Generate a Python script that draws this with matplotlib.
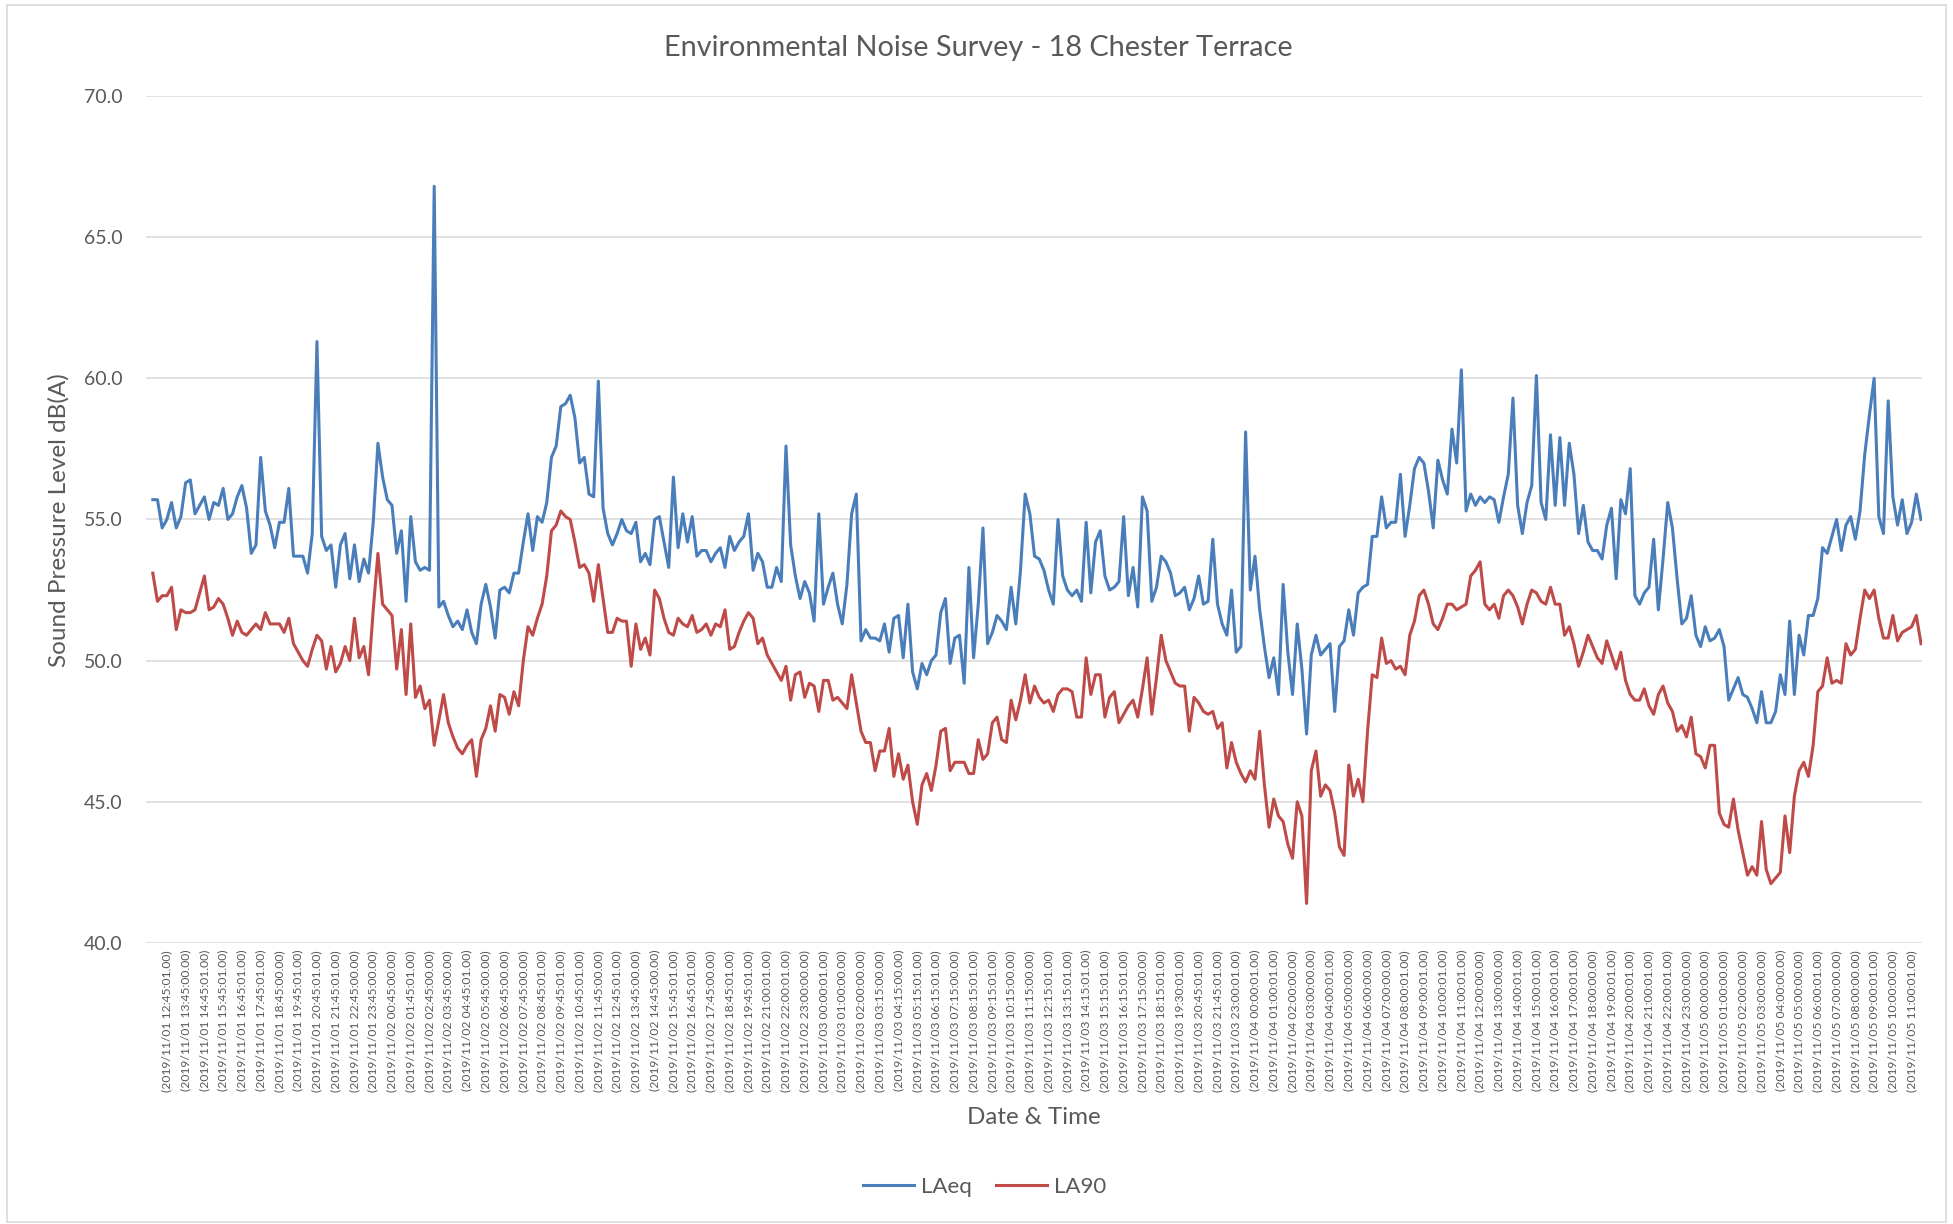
import numpy as np
import matplotlib.pyplot as plt
from matplotlib.patches import Rectangle

plt.rcParams['font.family'] = ['Lato', 'DejaVu Sans']

# x labels, one every 4th reading
tick_times = [
    "2019/11/01 12:45:01", "2019/11/01 13:45:00", "2019/11/01 14:45:01", "2019/11/01 15:45:01",
    "2019/11/01 16:45:01", "2019/11/01 17:45:01", "2019/11/01 18:45:00", "2019/11/01 19:45:01",
    "2019/11/01 20:45:01", "2019/11/01 21:45:01", "2019/11/01 22:45:00", "2019/11/01 23:45:00",
    "2019/11/02 00:45:00", "2019/11/02 01:45:01", "2019/11/02 02:45:00", "2019/11/02 03:45:00",
    "2019/11/02 04:45:01", "2019/11/02 05:45:00", "2019/11/02 06:45:00", "2019/11/02 07:45:00",
    "2019/11/02 08:45:01", "2019/11/02 09:45:01", "2019/11/02 10:45:01", "2019/11/02 11:45:00",
    "2019/11/02 12:45:01", "2019/11/02 13:45:00", "2019/11/02 14:45:00", "2019/11/02 15:45:01",
    "2019/11/02 16:45:01", "2019/11/02 17:45:00", "2019/11/02 18:45:01", "2019/11/02 19:45:01",
    "2019/11/02 21:00:01", "2019/11/02 22:00:01", "2019/11/02 23:00:00", "2019/11/03 00:00:01",
    "2019/11/03 01:00:00", "2019/11/03 02:00:00", "2019/11/03 03:15:00", "2019/11/03 04:15:00",
    "2019/11/03 05:15:01", "2019/11/03 06:15:01", "2019/11/03 07:15:00", "2019/11/03 08:15:01",
    "2019/11/03 09:15:01", "2019/11/03 10:15:00", "2019/11/03 11:15:00", "2019/11/03 12:15:01",
    "2019/11/03 13:15:01", "2019/11/03 14:15:01", "2019/11/03 15:15:01", "2019/11/03 16:15:01",
    "2019/11/03 17:15:00", "2019/11/03 18:15:01", "2019/11/03 19:30:01", "2019/11/03 20:45:01",
    "2019/11/03 21:45:01", "2019/11/03 23:00:01", "2019/11/04 00:00:01", "2019/11/04 01:00:01",
    "2019/11/04 02:00:00", "2019/11/04 03:00:00", "2019/11/04 04:00:01", "2019/11/04 05:00:00",
    "2019/11/04 06:00:00", "2019/11/04 07:00:00", "2019/11/04 08:00:01", "2019/11/04 09:00:01",
    "2019/11/04 10:00:01", "2019/11/04 11:00:01", "2019/11/04 12:00:00", "2019/11/04 13:00:00",
    "2019/11/04 14:00:01", "2019/11/04 15:00:01", "2019/11/04 16:00:01", "2019/11/04 17:00:01",
    "2019/11/04 18:00:00", "2019/11/04 19:00:01", "2019/11/04 20:00:01", "2019/11/04 21:00:01",
    "2019/11/04 22:00:01", "2019/11/04 23:00:00", "2019/11/05 00:00:00", "2019/11/05 01:00:00",
    "2019/11/05 02:00:00", "2019/11/05 03:00:00", "2019/11/05 04:00:00", "2019/11/05 05:00:00",
    "2019/11/05 06:00:01", "2019/11/05 07:00:00", "2019/11/05 08:00:00", "2019/11/05 09:00:01",
    "2019/11/05 10:00:00", "2019/11/05 11:00:01",
]

laeq = [
    55.7, 55.7, 54.7, 55.0, 55.6, 54.7, 55.1, 56.3, 56.4, 55.2,
    55.5, 55.8, 55.0, 55.6, 55.5, 56.1, 55.0, 55.2, 55.8, 56.2,
    55.4, 53.8, 54.1, 57.2, 55.3, 54.8, 54.0, 54.9, 54.9, 56.1,
    53.7, 53.7, 53.7, 53.1, 54.5, 61.3, 54.4, 53.9, 54.1, 52.6,
    54.1, 54.5, 52.9, 54.1, 52.8, 53.6, 53.1, 54.9, 57.7, 56.5,
    55.7, 55.5, 53.8, 54.6, 52.1, 55.1, 53.5, 53.2, 53.3, 53.2,
    66.8, 51.9, 52.1, 51.6, 51.2, 51.4, 51.1, 51.8, 51.0, 50.6,
    52.0, 52.7, 51.9, 50.8, 52.5, 52.6, 52.4, 53.1, 53.1, 54.2,
    55.2, 53.9, 55.1, 54.9, 55.6, 57.2, 57.6, 59.0, 59.1, 59.4,
    58.6, 57.0, 57.2, 55.9, 55.8, 59.9, 55.4, 54.5, 54.1, 54.5,
    55.0, 54.6, 54.5, 54.9, 53.5, 53.8, 53.4, 55.0, 55.1, 54.2,
    53.3, 56.5, 54.0, 55.2, 54.2, 55.1, 53.7, 53.9, 53.9, 53.5,
    53.8, 54.0, 53.3, 54.4, 53.9, 54.2, 54.4, 55.2, 53.2, 53.8,
    53.5, 52.6, 52.6, 53.3, 52.8, 57.6, 54.1, 53.0, 52.2, 52.8,
    52.4, 51.4, 55.2, 52.0, 52.6, 53.1, 52.0, 51.3, 52.7, 55.2,
    55.9, 50.7, 51.1, 50.8, 50.8, 50.7, 51.3, 50.3, 51.5, 51.6,
    50.1, 52.0, 49.6, 49.0, 49.9, 49.5, 50.0, 50.2, 51.7, 52.2,
    49.9, 50.8, 50.9, 49.2, 53.3, 50.1, 52.0, 54.7, 50.6, 51.0,
    51.6, 51.4, 51.1, 52.6, 51.3, 53.2, 55.9, 55.2, 53.7, 53.6,
    53.2, 52.5, 52.0, 55.0, 53.0, 52.5, 52.3, 52.5, 52.1, 54.9,
    52.4, 54.2, 54.6, 53.0, 52.5, 52.6, 52.8, 55.1, 52.3, 53.3,
    51.9, 55.8, 55.3, 52.1, 52.6, 53.7, 53.5, 53.1, 52.3, 52.4,
    52.6, 51.8, 52.2, 53.0, 52.0, 52.1, 54.3, 52.0, 51.3, 50.9,
    52.5, 50.3, 50.5, 58.1, 52.5, 53.7, 51.8, 50.5, 49.4, 50.1,
    48.8, 52.7, 50.3, 48.8, 51.3, 49.7, 47.4, 50.2, 50.9, 50.2,
    50.4, 50.6, 48.2, 50.5, 50.7, 51.8, 50.9, 52.4, 52.6, 52.7,
    54.4, 54.4, 55.8, 54.7, 54.9, 54.9, 56.6, 54.4, 55.5, 56.8,
    57.2, 57.0, 56.0, 54.7, 57.1, 56.4, 55.9, 58.2, 57.0, 60.3,
    55.3, 55.9, 55.5, 55.8, 55.6, 55.8, 55.7, 54.9, 55.8, 56.6,
    59.3, 55.5, 54.5, 55.6, 56.2, 60.1, 55.6, 55.0, 58.0, 55.5,
    57.9, 55.5, 57.7, 56.6, 54.5, 55.5, 54.2, 53.9, 53.9, 53.6,
    54.8, 55.4, 52.9, 55.7, 55.2, 56.8, 52.3, 52.0, 52.4, 52.6,
    54.3, 51.8, 53.6, 55.6, 54.7, 52.9, 51.3, 51.5, 52.3, 50.9,
    50.5, 51.2, 50.7, 50.8, 51.1, 50.5, 48.6, 49.0, 49.4, 48.8,
    48.7, 48.3, 47.8, 48.9, 47.8, 47.8, 48.2, 49.5, 48.8, 51.4,
    48.8, 50.9, 50.2, 51.6, 51.6, 52.2, 54.0, 53.8, 54.4, 55.0,
    53.9, 54.8, 55.1, 54.3, 55.3, 57.3, 58.7, 60.0, 55.1, 54.5,
    59.2, 55.8, 54.8, 55.7, 54.5, 54.9, 55.9, 55.0,
]

la90 = [
    53.1, 52.1, 52.3, 52.3, 52.6, 51.1, 51.8, 51.7, 51.7, 51.8,
    52.4, 53.0, 51.8, 51.9, 52.2, 52.0, 51.5, 50.9, 51.4, 51.0,
    50.9, 51.1, 51.3, 51.1, 51.7, 51.3, 51.3, 51.3, 51.0, 51.5,
    50.6, 50.3, 50.0, 49.8, 50.4, 50.9, 50.7, 49.7, 50.5, 49.6,
    49.9, 50.5, 50.0, 51.5, 50.1, 50.5, 49.5, 51.8, 53.8, 52.0,
    51.8, 51.6, 49.7, 51.1, 48.8, 51.3, 48.7, 49.1, 48.3, 48.6,
    47.0, 47.9, 48.8, 47.8, 47.3, 46.9, 46.7, 47.0, 47.2, 45.9,
    47.2, 47.6, 48.4, 47.5, 48.8, 48.7, 48.1, 48.9, 48.4, 50.0,
    51.2, 50.9, 51.5, 52.0, 53.0, 54.6, 54.8, 55.3, 55.1, 55.0,
    54.2, 53.3, 53.4, 53.1, 52.1, 53.4, 52.2, 51.0, 51.0, 51.5,
    51.4, 51.4, 49.8, 51.3, 50.4, 50.8, 50.2, 52.5, 52.2, 51.5,
    51.0, 50.9, 51.5, 51.3, 51.2, 51.6, 51.0, 51.1, 51.3, 50.9,
    51.3, 51.2, 51.8, 50.4, 50.5, 51.0, 51.4, 51.7, 51.5, 50.6,
    50.8, 50.2, 49.9, 49.6, 49.3, 49.8, 48.6, 49.5, 49.6, 48.7,
    49.2, 49.1, 48.2, 49.3, 49.3, 48.6, 48.7, 48.5, 48.3, 49.5,
    48.5, 47.5, 47.1, 47.1, 46.1, 46.8, 46.8, 47.6, 45.9, 46.7,
    45.8, 46.3, 45.0, 44.2, 45.6, 46.0, 45.4, 46.3, 47.5, 47.6,
    46.1, 46.4, 46.4, 46.4, 46.0, 46.0, 47.2, 46.5, 46.7, 47.8,
    48.0, 47.2, 47.1, 48.6, 47.9, 48.6, 49.5, 48.5, 49.1, 48.7,
    48.5, 48.6, 48.2, 48.8, 49.0, 49.0, 48.9, 48.0, 48.0, 50.1,
    48.8, 49.5, 49.5, 48.0, 48.7, 48.9, 47.8, 48.1, 48.4, 48.6,
    48.0, 49.0, 50.1, 48.1, 49.4, 50.9, 50.0, 49.6, 49.2, 49.1,
    49.1, 47.5, 48.7, 48.5, 48.2, 48.1, 48.2, 47.6, 47.8, 46.2,
    47.1, 46.4, 46.0, 45.7, 46.1, 45.8, 47.5, 45.6, 44.1, 45.1,
    44.5, 44.3, 43.5, 43.0, 45.0, 44.5, 41.4, 46.1, 46.8, 45.2,
    45.6, 45.4, 44.6, 43.4, 43.1, 46.3, 45.2, 45.8, 45.0, 47.5,
    49.5, 49.4, 50.8, 49.9, 50.0, 49.7, 49.8, 49.5, 50.9, 51.4,
    52.3, 52.5, 52.0, 51.3, 51.1, 51.5, 52.0, 52.0, 51.8, 51.9,
    52.0, 53.0, 53.2, 53.5, 52.0, 51.8, 52.0, 51.5, 52.3, 52.5,
    52.3, 51.9, 51.3, 52.0, 52.5, 52.4, 52.1, 52.0, 52.6, 52.0,
    52.0, 50.9, 51.2, 50.6, 49.8, 50.3, 50.9, 50.5, 50.1, 49.9,
    50.7, 50.2, 49.7, 50.3, 49.3, 48.8, 48.6, 48.6, 49.0, 48.4,
    48.1, 48.8, 49.1, 48.5, 48.2, 47.5, 47.7, 47.3, 48.0, 46.7,
    46.6, 46.2, 47.0, 47.0, 44.6, 44.2, 44.1, 45.1, 44.0, 43.2,
    42.4, 42.7, 42.4, 44.3, 42.6, 42.1, 42.3, 42.5, 44.5, 43.2,
    45.2, 46.1, 46.4, 45.9, 47.0, 48.9, 49.1, 50.1, 49.2, 49.3,
    49.2, 50.6, 50.2, 50.4, 51.5, 52.5, 52.2, 52.5, 51.5, 50.8,
    50.8, 51.6, 50.7, 51.0, 51.1, 51.2, 51.6, 50.6,
]

text_col = '#595959'
x = np.arange(len(laeq))

fig = plt.figure(figsize=(19.53, 12.24), dpi=100)
fig.patches.append(Rectangle((0.0035, 0.002), 0.993, 0.994, transform=fig.transFigure,
                             fill=False, edgecolor='#D9D9D9', lw=1.2))

ax = fig.add_axes([0.0748, 0.2296, 0.9093, 0.692])
ax.plot(x, laeq, color='#4A7EBB', lw=2.2, label='LAeq')
ax.plot(x, la90, color='#BE4B48', lw=2.2, label='LA90')

ax.set_ylim(40, 70)
ax.set_xlim(-1.43, len(laeq) - 1 + 0.2)
ax.set_yticks(np.arange(40, 70.1, 5))
ax.yaxis.set_major_formatter('{x:.1f}')
ax.set_xticks(x[3::4])
ax.set_xticklabels(['(' + t + '.00)' for t in tick_times], rotation=90, fontsize=8.7, color=text_col)
ax.tick_params(axis='y', length=0, pad=17, labelsize=14, labelcolor=text_col)
ax.tick_params(axis='x', length=0, pad=5)
ax.grid(axis='y', color='#D9D9D9', lw=1.1)
ax.set_axisbelow(True)
for s in ax.spines.values():
    s.set_visible(False)

fig.text(0.501, 0.961, 'Environmental Noise Survey - 18 Chester Terrace', ha='center', va='center',
         fontsize=20.8, color=text_col)
fig.text(58.5 / 1953, 0.575, 'Sound Pressure Level dB(A)', rotation=90, ha='center', va='center',
         fontsize=17.5, color=text_col)
fig.text(1034 / 1953, 1 - 1117 / 1224, 'Date & Time', ha='center', va='center',
         fontsize=17.4, color=text_col)
fig.legend(loc='center', bbox_to_anchor=(0.504, 1 - 1187 / 1224), ncol=2, frameon=False,
           fontsize=16, handlelength=2.3, handletextpad=0.3, columnspacing=1.1,
           labelcolor=text_col)

fig.savefig('out.png', dpi=100)
